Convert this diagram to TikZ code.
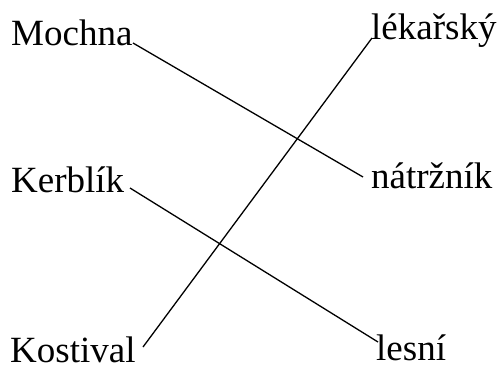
\documentclass[tikz,border=0pt]{standalone}
\usepackage{fontspec}
\setmainfont{Liberation Serif}
\begin{document}
\begin{tikzpicture}[x=1pt,y=-1pt,
  word/.style={anchor=base west,inner sep=0pt,font=\fontsize{37}{40}\selectfont},
  link/.style={line width=1.3pt}]
\useasboundingbox (0,0) rectangle (500,370);
\node[word] (mochna) at (11,45) {Mochna};
\node[word] (kerblik) at (11,192) {Kerblík};
\node[word] (kostival) at (10,362) {Kostival};
\node[word] (lekarsky) at (371,39) {lékařský};
\node[word] (natrznik) at (371,188) {nátržník};
\node[word] (lesni) at (376,360) {lesní};
\coordinate (mE) at (133,43);
\coordinate (nW) at (363,177);
\coordinate (lW) at (372,38);
\coordinate (koE) at (143,347);
\coordinate (kE) at (130,188);
\coordinate (leW) at (378,342);
\draw[link] (mE) -- (nW);
\draw[link] (lW) -- (koE);
\draw[link] (kE) -- (leW);
\end{tikzpicture}
\end{document}
